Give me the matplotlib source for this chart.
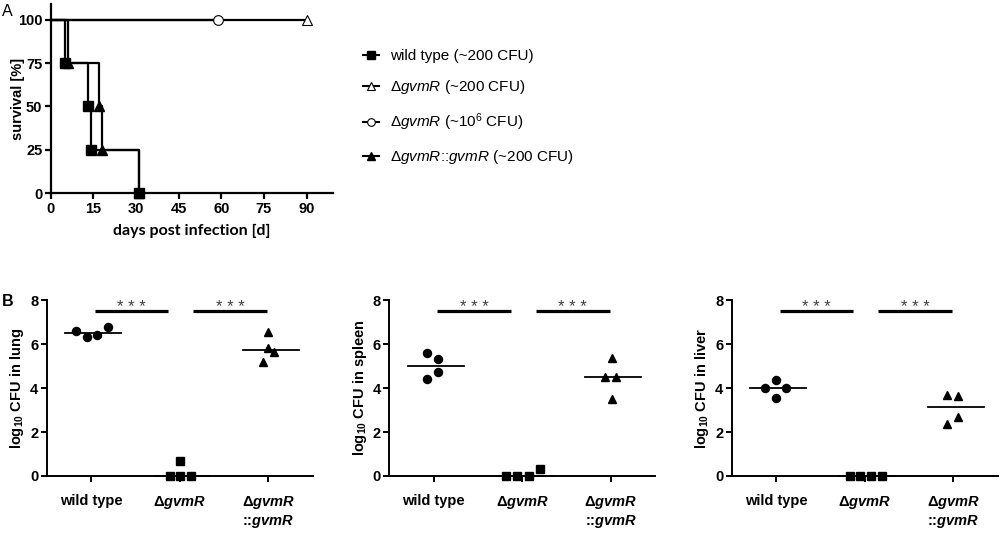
import numpy as np
import matplotlib
matplotlib.use("Agg")
import matplotlib.pyplot as plt

plt.rcParams['font.family'] = ['Liberation Sans', 'DejaVu Sans']
plt.rcParams['mathtext.fontset'] = 'custom'
plt.rcParams['mathtext.rm'] = 'Liberation Sans'
plt.rcParams['mathtext.it'] = 'Liberation Sans:italic'
plt.rcParams['mathtext.bf'] = 'Liberation Sans:bold'
plt.rcParams['mathtext.bfit'] = 'Liberation Sans:italic:bold'

# ---- panel A: survival (Kaplan-Meier steps) ----
km_days_wt = [0, 5, 13, 14, 31]
km_surv_wt = [100, 75, 50, 25, 0]
km_days_mut = [0, 90]
km_surv_mut = [100, 100]
km_days_mut_hi = [0, 59]
km_surv_mut_hi = [100, 100]
km_days_comp = [0, 6, 17, 18, 31]
km_surv_comp = [100, 75, 50, 25, 0]

legend_labels = [
    'wild type (~200 CFU)',
    r'Δ$\mathit{gvmR}$ (~200 CFU)',
    r'Δ$\mathit{gvmR}$ (~$10^6$ CFU)',
    r'Δ$\mathit{gvmR}$::$\mathit{gvmR}$ (~200 CFU)',
]

# ---- panel B: bacterial load per organ (log10 CFU) ----
group_labels = ['wild type', r'Δ$\mathbfit{gvmR}$', 'Δ$\\mathbfit{gvmR}$\n::$\\mathbfit{gvmR}$']
organs = ['lung', 'spleen', 'liver']

lung_wt = [6.59, 6.30, 6.41, 6.76]
lung_mut = [0.0, 0.68, 0.0, 0.0]
lung_comp = [6.53, 5.80, 5.65, 5.20]

spleen_wt = [5.57, 5.30, 4.40, 4.71]
spleen_mut = [0.0, 0.0, 0.0, 0.30]
spleen_comp = [5.35, 4.48, 4.48, 3.52]

liver_wt = [4.01, 4.36, 4.01, 3.55]
liver_mut = [0.0, 0.0, 0.0, 0.0]
liver_comp = [3.70, 3.63, 2.35, 2.66]

organ_data = {
    'lung': [lung_wt, lung_mut, lung_comp],
    'spleen': [spleen_wt, spleen_mut, spleen_comp],
    'liver': [liver_wt, liver_mut, liver_comp],
}

# horizontal scatter of the dots (layout only)
jitter = {
    'lung': [[-0.17, -0.05, 0.07, 0.19], [-0.11, 0.0, 0.0, 0.125], [0.0, 0.0, 0.065, -0.057]],
    'spleen': [[-0.07, 0.05, -0.07, 0.05], [-0.18, -0.06, 0.07, 0.2], [0.01, -0.065, 0.06, 0.01]],
    'liver': [[-0.12, 0.0, 0.11, 0.0], [-0.17, -0.05, 0.07, 0.19], [-0.076, 0.05, -0.07, 0.05]],
}
markers = ['o', 's', '^']

fig = plt.figure(figsize=(10, 5.37), dpi=100)

# ---------------- A ----------------
ax = fig.add_axes([0.0507, 0.640, 0.2823, 0.3525])
kw = dict(where='post', color='black', lw=1.6, clip_on=False)
l1, = ax.step(km_days_wt, km_surv_wt, marker='s', ms=7, markevery=list(range(1, 5)), **kw)
l2, = ax.step(km_days_mut, km_surv_mut, marker='^', ms=7, mfc='white', mew=0.8, markevery=[1], **kw)
l3, = ax.step(km_days_mut_hi, km_surv_mut_hi, marker='o', ms=7, mfc='white', mew=0.8, markevery=[1], **kw)
l4, = ax.step(km_days_comp, km_surv_comp, marker='^', ms=7, markevery=list(range(1, 5)), **kw)

ax.set_xlim(0, 99.3)
ax.set_ylim(0, 109)
ax.set_xticks([0, 15, 30, 45, 60, 75, 90])
ax.set_yticks([0, 25, 50, 75, 100])
for s in ['top', 'right']:
    ax.spines[s].set_visible(False)
for s in ['left', 'bottom']:
    ax.spines[s].set_linewidth(1.6)
ax.tick_params(width=1.6, length=4, labelsize=10.5, pad=2)
for lab in ax.get_xticklabels() + ax.get_yticklabels():
    lab.set_fontweight('bold')
ax.set_ylabel('survival [%]', fontsize=10.5, fontweight='bold')
ax.yaxis.set_label_coords(-0.092, 0.5)
ax.set_xlabel('days post infection [d]', fontsize=11.5, fontweight='bold',
              fontfamily='Lato', labelpad=6)

leg = fig.legend([l1, l2, l3, l4], legend_labels, loc='upper left',
                 bbox_to_anchor=(0.363, 1 - 49 / 537), frameon=False,
                 fontsize=11, handlelength=1.05, handletextpad=0.75,
                 labelspacing=1.0, borderpad=0, borderaxespad=0)
for h in leg.legend_handles:
    h.set_markersize(5.5)
    h.set_linewidth(1.5)

fig.text(0.002, 1 - 11 / 537, 'A', fontsize=11.5, va='center', ha='left')

# ---------------- B ----------------
lefts = [0.0467, 0.3893, 0.7317]
for organ, left in zip(organs, lefts):
    bx = fig.add_axes([left, 0.1136, 0.266, 0.3277])
    for i, vals in enumerate(organ_data[organ]):
        xs = [i + d for d in jitter[organ][i]]
        bx.plot(xs, vals, linestyle='none', marker=markers[i], ms=5.8,
                color='black', clip_on=False, zorder=3)
        med = np.median(vals)
        bx.plot([i - 0.29, i + 0.34], [med, med], color='black', lw=1.3,
                clip_on=False, zorder=2)

    # significance bars
    for x0, x1 in [(0.04, 0.87), (1.15, 1.99)]:
        bx.plot([x0, x1], [7.5, 7.5], color='black', lw=2.3, clip_on=False,
                solid_capstyle='butt')
        bx.text((x0 + x1) / 2, 7.45, '* * *', ha='center', va='baseline',
                fontsize=12, color='#404040')

    bx.set_xlim(-0.5, 2.5)
    bx.set_ylim(0, 8)
    bx.set_yticks([0, 2, 4, 6, 8])
    bx.set_xticks([0, 1, 2])
    bx.set_xticklabels(group_labels, fontsize=11, fontweight='bold')
    for s in ['top', 'right']:
        bx.spines[s].set_visible(False)
    for s in ['left', 'bottom']:
        bx.spines[s].set_linewidth(1.4)
    bx.tick_params(width=1.4, length=4, labelsize=10.5, pad=2)
    bx.tick_params(axis='x', pad=9)
    for lab in bx.get_yticklabels():
        lab.set_fontweight('bold')
    bx.set_ylabel(r'log$_{\mathbf{10}}$ CFU in ' + organ, fontsize=10.5,
                  fontweight='bold')
    bx.yaxis.set_label_coords(-0.076, 0.5)

fig.text(0.002, 1 - 301 / 537, 'B', fontsize=11.5, fontweight='bold', va='center', ha='left')

fig.savefig('out.png', dpi=100)
